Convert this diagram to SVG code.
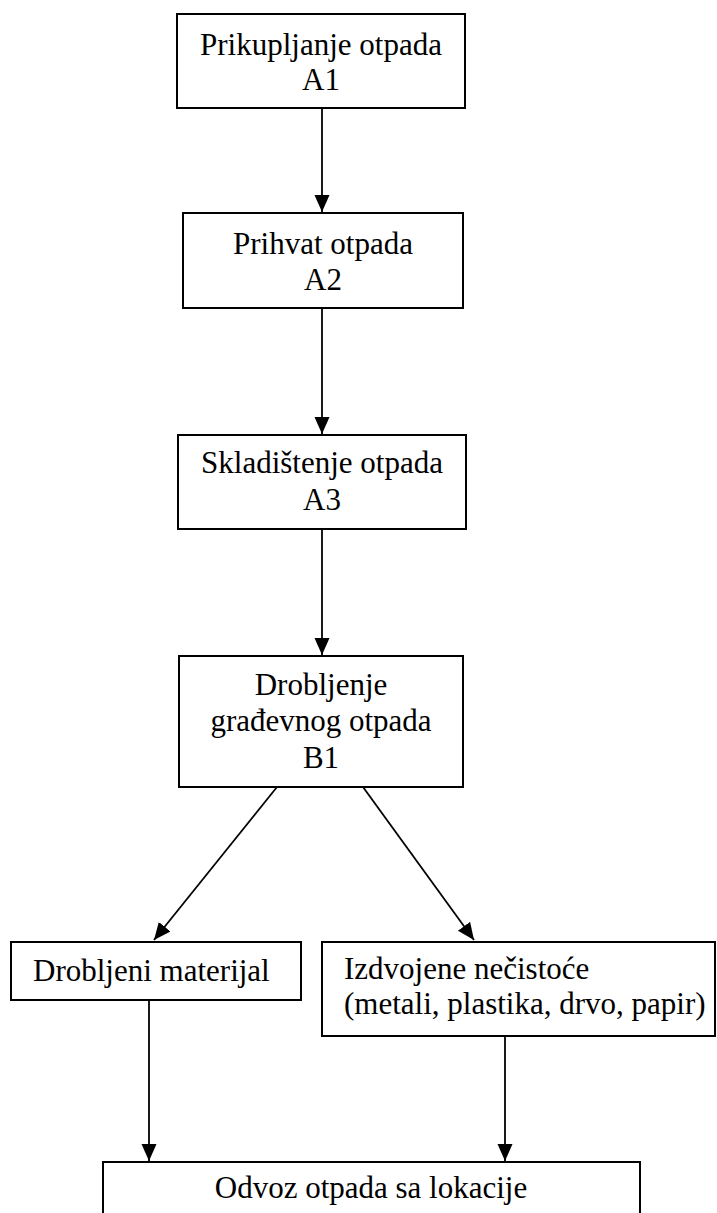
<svg xmlns="http://www.w3.org/2000/svg" width="717" height="1213" viewBox="0 0 717 1213">
<style>
.box{fill:#fff;stroke:#000;stroke-width:2}
.t{font-family:"Liberation Serif","Times New Roman",serif;font-size:31px;fill:#000}
.c{text-anchor:middle}
.ln{stroke:#000;stroke-width:1.8;fill:none}
</style>
<defs>
<marker id="ah" markerUnits="userSpaceOnUse" markerWidth="18" markerHeight="16" refX="17" refY="7.5" orient="auto">
<path d="M0,0 L17,7.5 L0,15 z" fill="#000"/>
</marker>
</defs>
<rect width="717" height="1213" fill="#fff"/>
<g id="connectors">
<line class="ln" x1="322" y1="108" x2="322" y2="212" marker-end="url(#ah)"/>
<line class="ln" x1="322" y1="308" x2="322" y2="434" marker-end="url(#ah)"/>
<line class="ln" x1="322" y1="529" x2="322" y2="655" marker-end="url(#ah)"/>
<line class="ln" x1="277" y1="787" x2="154" y2="940" marker-end="url(#ah)"/>
<line class="ln" x1="363" y1="787" x2="474" y2="940" marker-end="url(#ah)"/>
<line class="ln" x1="149" y1="1000" x2="149" y2="1161" marker-end="url(#ah)"/>
<line class="ln" x1="505" y1="1036" x2="505" y2="1161" marker-end="url(#ah)"/>
</g>
<g id="A1">
<rect class="box" x="177" y="14" width="288" height="94"/>
<text class="t c" x="321" y="55">Prikupljanje otpada</text>
<text class="t c" x="321" y="90">A1</text>
</g>
<g id="A2">
<rect class="box" x="183" y="213" width="280" height="95"/>
<text class="t c" x="323" y="254">Prihvat otpada</text>
<text class="t c" x="323" y="290">A2</text>
</g>
<g id="A3">
<rect class="box" x="178" y="435" width="288" height="94"/>
<text class="t c" x="322" y="473">Skladištenje otpada</text>
<text class="t c" x="322" y="510">A3</text>
</g>
<g id="B1">
<rect class="box" x="179" y="656" width="284" height="131"/>
<text class="t c" x="321" y="695">Drobljenje</text>
<text class="t c" x="321" y="731">građevnog otpada</text>
<text class="t c" x="321" y="768">B1</text>
</g>
<g id="drobljeni">
<rect class="box" x="11" y="942" width="290" height="58"/>
<text class="t" x="33" y="981">Drobljeni materijal</text>
</g>
<g id="izdvojene">
<rect class="box" x="322" y="942" width="393" height="94"/>
<text class="t" x="344" y="979">Izdvojene nečistoće</text>
<text class="t" x="344" y="1014">(metali, plastika, drvo, papir)</text>
</g>
<g id="odvoz">
<rect class="box" x="103" y="1162" width="537" height="100"/>
<text class="t c" x="371" y="1198">Odvoz otpada sa lokacije</text>
</g>
</svg>
